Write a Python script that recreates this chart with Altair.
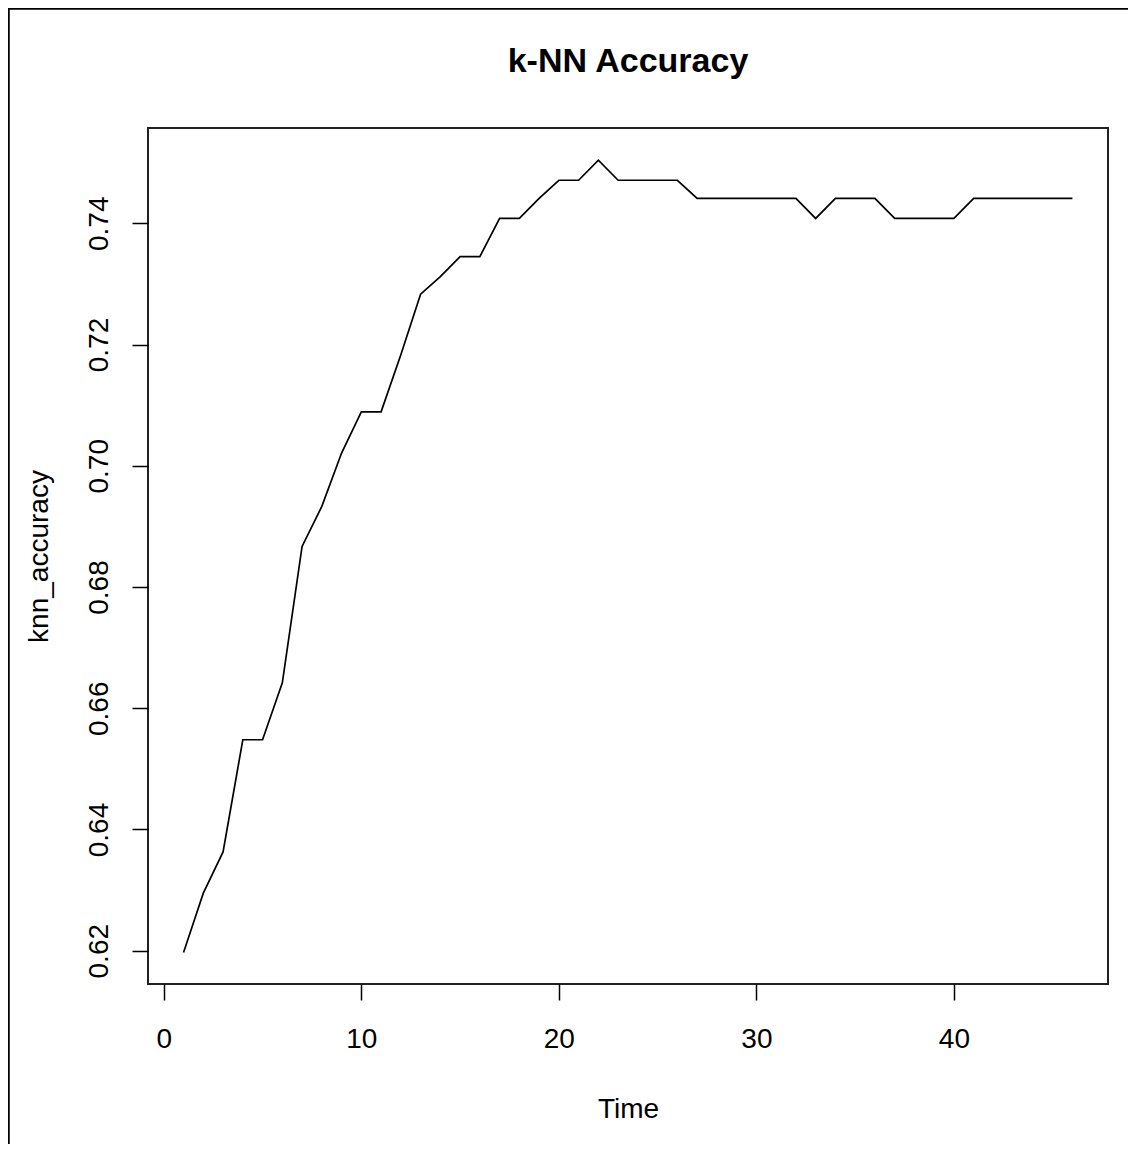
import altair as alt
import pandas as pd

time = list(range(1, 47))
accuracy = [
    0.6197, 0.6295, 0.6363, 0.6548, 0.6548, 0.6642, 0.6867, 0.6933, 0.7021, 0.7089,
    0.7089, 0.7183, 0.7283, 0.7312, 0.7345, 0.7345, 0.7408, 0.7408, 0.7441, 0.7471,
    0.7471, 0.7504, 0.7471, 0.7471, 0.7471, 0.7471, 0.7441, 0.7441, 0.7441, 0.7441,
    0.7441, 0.7441, 0.7408, 0.7441, 0.7441, 0.7441, 0.7408, 0.7408, 0.7408, 0.7408,
    0.7441, 0.7441, 0.7441, 0.7441, 0.7441, 0.7441,
]
x_ticks = [0, 10, 20, 30, 40]
y_ticks = [0.62, 0.64, 0.66, 0.68, 0.70, 0.72, 0.74]
title_text = ["k-NN Accuracy"]

df = pd.DataFrame({"Time": time, "knn_accuracy": accuracy})
FONT = "Liberation Sans"

line = alt.Chart(df).mark_line(color="black", strokeWidth=1.7).encode(
    x=alt.X(
        "Time:Q",
        scale=alt.Scale(domain=[-0.8, 47.8], nice=False, zero=False),
        axis=alt.Axis(
            values=x_ticks, format="d", domain=False, grid=False,
            tickSize=16, tickColor="black", tickWidth=1.5,
            labelFont=FONT, labelFontSize=28, labelColor="black",
            labelPadding=47, labelBaseline="alphabetic", labelAlign="center",
            title="Time", titleFont=FONT, titleFontSize=28, titleFontWeight="normal",
            titleColor="black", titleX=480, titleY=133, titleAlign="center",
            titleBaseline="alphabetic", titleAngle=0,
        ),
    ),
    y=alt.Y(
        "knn_accuracy:Q",
        scale=alt.Scale(domain=[0.61451, 0.75572], nice=False, zero=False),
        axis=alt.Axis(
            values=y_ticks, format=".2f", domain=False, grid=False,
            tickSize=16, tickColor="black", tickWidth=1.5,
            labelFont=FONT, labelFontSize=28, labelColor="black",
            labelAngle=270, labelPadding=25, labelBaseline="alphabetic",
            labelAlign="center",
            title="knn_accuracy", titleFont=FONT, titleFontSize=28,
            titleFontWeight="normal", titleColor="black", titleAngle=270,
            titleX=-101, titleY=428, titleAlign="center", titleBaseline="alphabetic",
        ),
    ),
)

one = pd.DataFrame({"a": [0]})
left_border = alt.Chart(one).mark_rule(color="black", strokeWidth=2.5).encode(
    x=alt.value(-139.5), y=alt.value(-120), y2=alt.value(1040)
)
top_border = alt.Chart(one).mark_rule(color="black", strokeWidth=2.5).encode(
    x=alt.value(-140), x2=alt.value(1000), y=alt.value(-119.5)
)
title = alt.Chart(pd.DataFrame({"t": title_text})).mark_text(
    font=FONT, fontSize=34, fontWeight="bold", color="black",
    align="center", baseline="alphabetic",
).encode(text="t:N", x=alt.value(480), y=alt.value(-56))

chart = alt.layer(line, left_border, top_border, title).properties(
    width=960,
    height=856,
    autosize=alt.AutoSizeParams(type="none"),
    padding={"left": 140, "top": 120, "right": 20, "bottom": 160},
).configure(
    background="white",
    view=alt.ViewConfig(stroke="#222222", strokeWidth=2),
)

chart.save("out.html", embed_options={"renderer": "svg", "actions": False})
